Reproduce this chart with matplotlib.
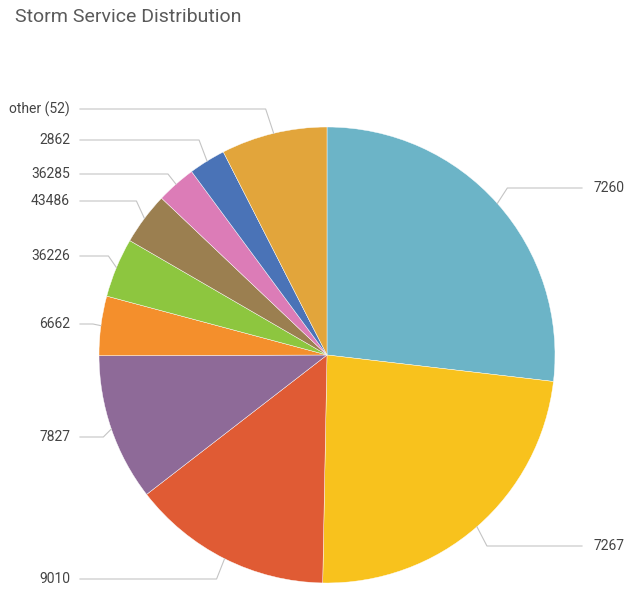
import numpy as np
import matplotlib.pyplot as plt

# share of requests per storm service, in percent
services = ['7260', '7267', '9010', '7827', '6662', '36226', '43486', '36285', '2862', 'other (52)']
shares = [26.8, 23.4, 14.2, 10.4, 4.2, 4.2, 3.7, 2.8, 2.6, 7.5]
colors = ['#6cb4c7', '#f8c21d', '#e05b34', '#8e6a98', '#f48f2c',
          '#8dc63f', '#9b7f50', '#dc7cb7', '#4a73b7', '#e2a53b']
# vertical pixel position of each label (from top of the figure)
label_y = [188, 546, 579, 437, 324, 256, 201, 174, 140, 109]

W, H = 631, 590
cx, cy, r = 327, 235, 228

fig = plt.figure(figsize=(W / 100, H / 100), dpi=100)
ax = fig.add_axes([0, 0, 1, 1])

wedges, _ = ax.pie(shares, colors=colors, startangle=90, counterclock=False,
                   center=(cx, cy), radius=r, frame=True,
                   wedgeprops=dict(edgecolor='white', linewidth=0.3))
ax.set_xlim(0, W)
ax.set_ylim(0, H)
ax.set_aspect('equal')
ax.axis('off')

for w, name, ly in zip(wedges, services, label_y):
    mid = np.deg2rad((w.theta1 + w.theta2) / 2)
    ex, ey = cx + r * np.cos(mid), cy + r * np.sin(mid)
    ty = H - ly
    if np.cos(mid) >= 0:
        elbow = ex + 10
        ax.plot([ex, elbow, 582], [ey, ty, ty], color='#c4c4c4', lw=0.8)
        ax.text(593, ty, name, ha='left', va='center', fontsize=10,
                color='#444444', family='Roboto')
    else:
        elbow = ex - 8
        ax.plot([ex, elbow, 80], [ey, ty, ty], color='#c4c4c4', lw=0.8)
        ax.text(70, ty, name, ha='right', va='center', fontsize=10,
                color='#444444', family='Roboto')

fig.text(15 / W, 1 - 17 / H, 'Storm Service Distribution', ha='left', va='center',
         fontsize=14, color='#5a5a5a', family='Roboto')

fig.savefig('out.png', dpi=100)
